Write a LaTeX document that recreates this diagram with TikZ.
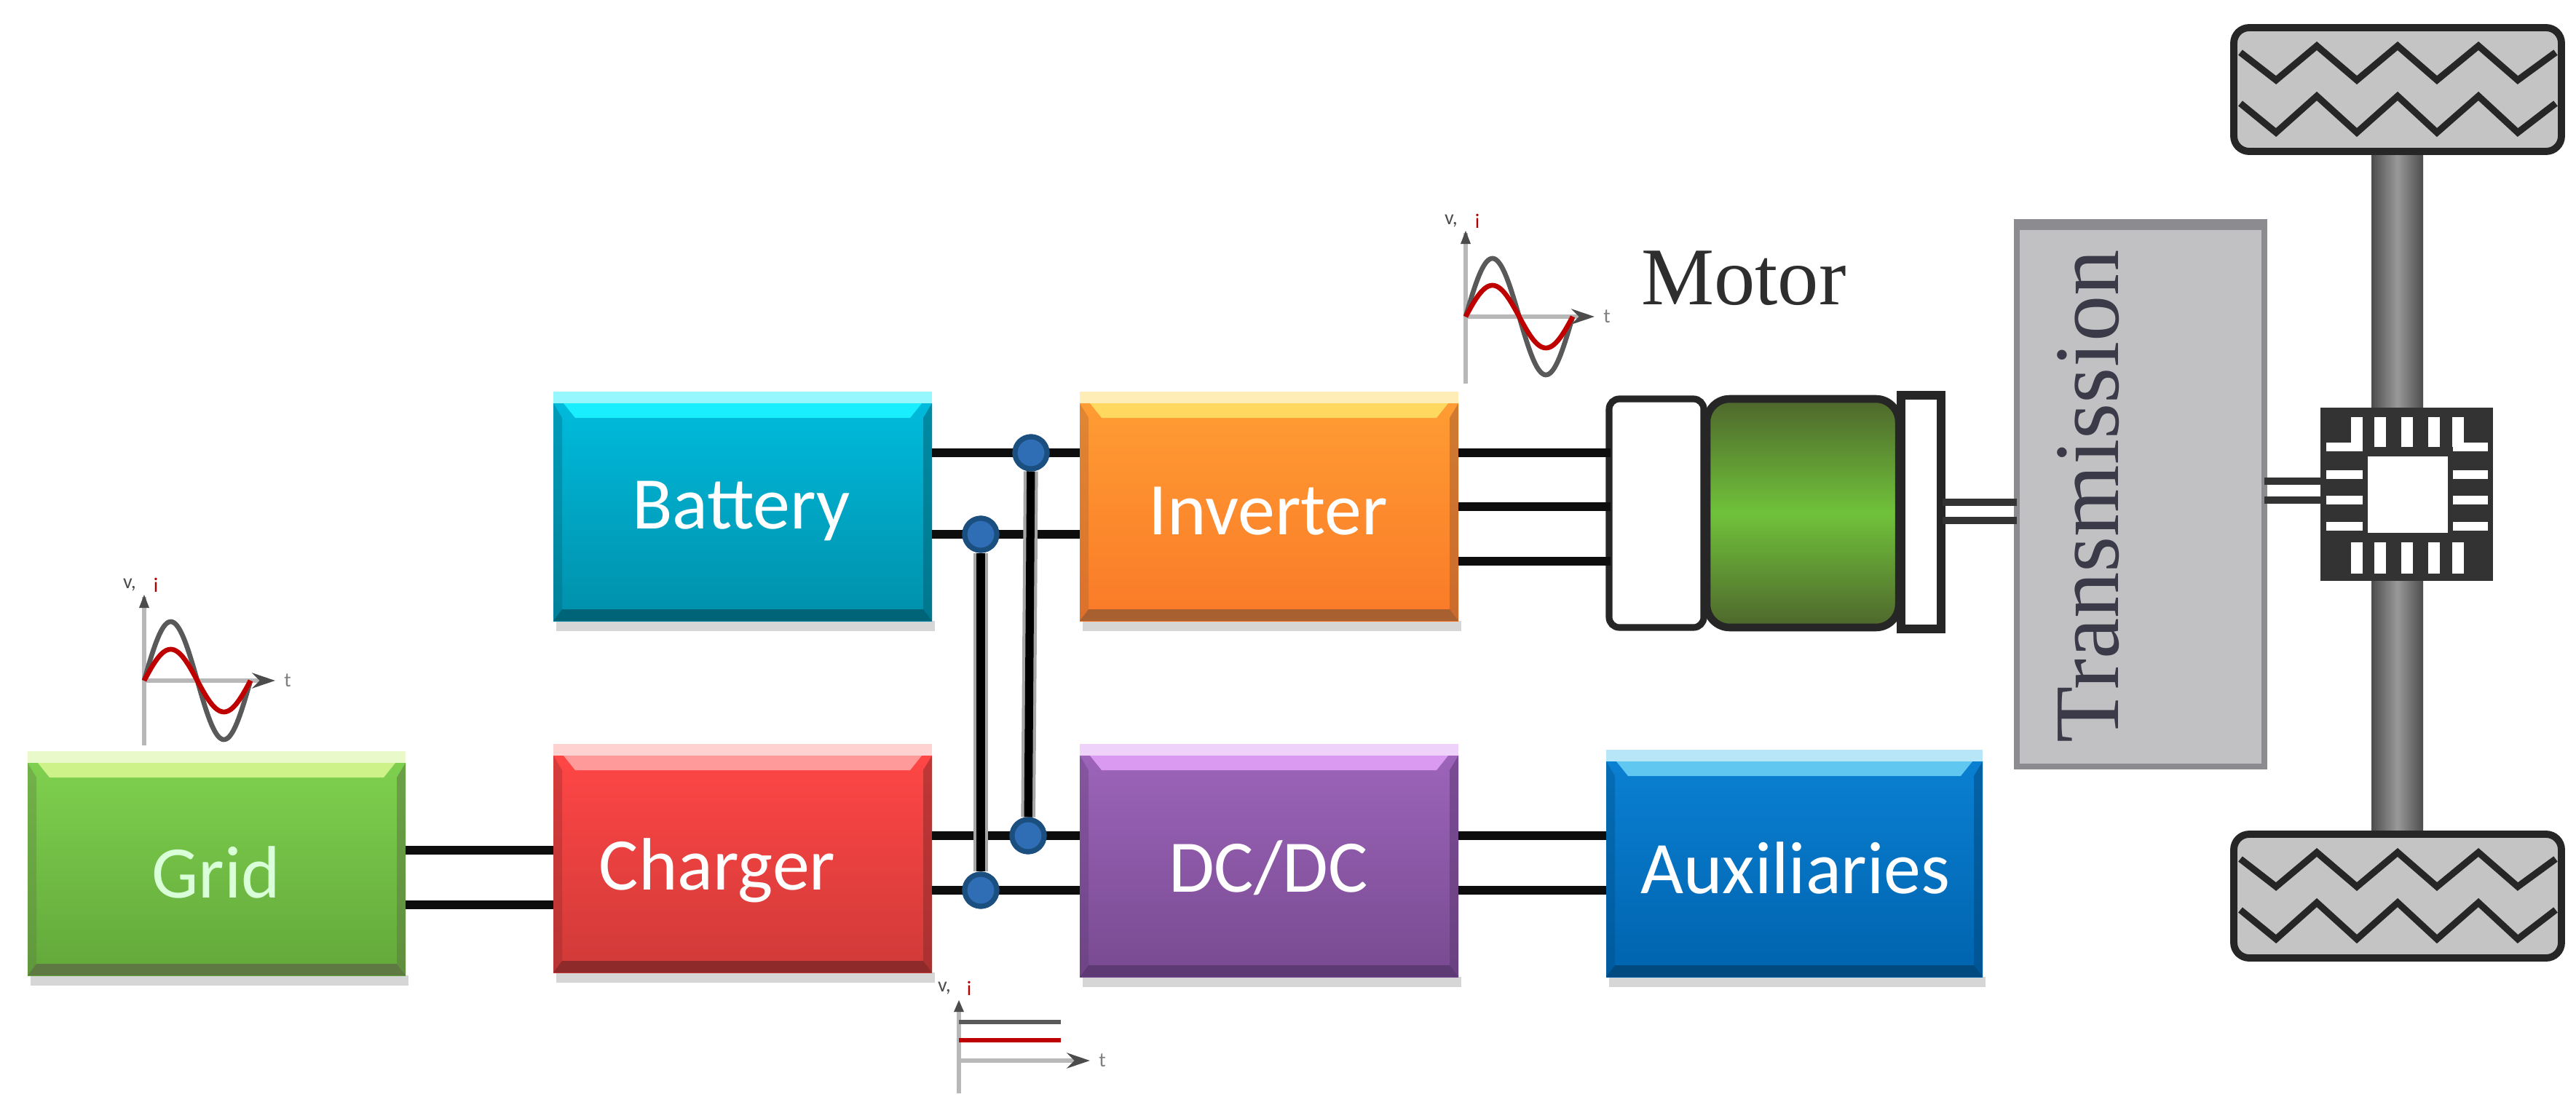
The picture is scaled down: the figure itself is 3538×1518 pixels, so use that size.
\documentclass[tikz,border=0pt]{standalone}
\usepackage{fontspec}
\setmainfont{Carlito}
\newfontfamily\serifm{Liberation Serif}
\usetikzlibrary{arrows.meta}
\newcommand{\bevbox}[9]{% name,x1,y1,x2,y2,top,bottom,highlight,dark
  \definecolor{bt}{HTML}{#6}\definecolor{bb}{HTML}{#7}\definecolor{bh}{HTML}{#8}\definecolor{bd}{HTML}{#9}
  \fill[black!16] (#2+4,#5) rectangle (#4+4,#5+14);
  \fill[bh!45!white] (#2,#3-8) rectangle (#4,#3+8);
  \node[boxface,top color=bt,bottom color=bb,minimum width={(#4-#2)*0.01cm},minimum height={(#5-#3-8)*0.01cm},anchor=south west] (#1) at (#2,#5) {};
  \fill[bh] (#2+14,#3+8) -- (#4-14,#3+8) -- (#4-30,#3+28) -- (#2+30,#3+28) -- cycle;
  \fill[bd] (#2,#5) -- (#4,#5) -- (#4-12,#5-16) -- (#2+12,#5-16) -- cycle;
  \fill[bd,opacity=.55] (#4,#3+8) -- (#4,#5) -- (#4-12,#5-16) -- (#4-12,#3+28) -- cycle;
  \fill[bd,opacity=.35] (#2,#3+8) -- (#2,#5) -- (#2+12,#5-16) -- (#2+12,#3+28) -- cycle;
}
\newcommand{\sinewave}[7]{% x0,y0,width,A black,A red,x axis end,y axis bottom
  \draw[axisline] (#1,#2-115) -- (#1,#7);
  \draw[axisline,-{Stealth[length=9pt,width=6pt,black!70]}] (#1,#2) -- (#6,#2);
  \fill[black!70] (#1-7,#2-100) -- (#1+7,#2-100) -- (#1,#2-118) -- cycle;
  \draw[curveblack] plot[domain=0:360,samples=72] ({#1+\x/360*#3},{#2-#4*sin(\x)});
  \draw[curvered] plot[domain=0:360,samples=72] ({#1+\x/360*#3},{#2-#5*sin(\x)});
  \node[axlabel,text=black!70] at (#1-20,#2-131) {v,};
  \node[axlabel,text=red!70!black] at (#1+16,#2-131) {i};
  \node[axlabel,text=black!50] at (#6+17,#2) {t};
}
\newcommand{\tire}[1]{%
  \begin{scope}[shift={(0,#1)}]
    \draw[tireline,fill=tiregray,rounded corners=6pt] (3068,38) rectangle (3518,208);
    \draw[zigline] (3077,72) -- (3126,110) -- (3182,63) -- (3237,110) -- (3293,63) -- (3347,110) -- (3404,63) -- (3458,110) -- (3510,72);
    \draw[zigline] (3077,142) -- (3126,182) -- (3182,132) -- (3237,182) -- (3293,132) -- (3347,182) -- (3404,132) -- (3458,182) -- (3510,142);
  \end{scope}
}
\definecolor{tiregray}{HTML}{C4C4C4}
\definecolor{dotblue}{HTML}{2F6DB5}
\definecolor{dotdark}{HTML}{1B4F80}
\definecolor{GreenEnd}{HTML}{4E662C}
\definecolor{GreenMid}{HTML}{70C23A}
\definecolor{transedge}{HTML}{8C8C90}
\definecolor{transface}{HTML}{C1C1C4}
\definecolor{transtext}{HTML}{3A3A48}
\tikzset{
  boxface/.style={inner sep=0pt,outer sep=0pt},
  boxlabel/.style={text=#1,font=\fontsize{29}{33}\selectfont,inner sep=0pt},
  wire/.style={line width=3.4pt,black!95},
  vwire/.style={line width=5.6pt,black!35,postaction={draw=black,line width=3.2pt}},
  dot/.style={circle,fill=dotblue,draw=dotdark,line width=2pt,minimum size=44*0.01cm,inner sep=0pt},
  axisline/.style={draw=black!28,line width=1.6pt},
  curveblack/.style={draw=black!65,line width=1.9pt},
  curvered/.style={draw=red!75!black,line width=1.9pt},
  axlabel/.style={font=\fontsize{8}{9}\selectfont,inner sep=0pt},
  tireline/.style={draw=black!85,line width=2.8pt},
  zigline/.style={draw=black!85,line width=2.6pt},
  shaft/.style={draw=black!80,line width=2.6pt},
  slot/.style={fill=white,draw=none},
}
\begin{document}
\begin{tikzpicture}[x=0.01cm,y=-0.01cm]
\useasboundingbox (0,0) rectangle (3538,1518);
% wheel axle
\shade[left color=black!70,right color=black!70,middle color=black!40] (3257,205) rectangle (3328,1148);
\tire{0}
\tire{1108}
% waveforms
\sinewave{198}{935}{146}{81}{43}{378}{1024}
\sinewave{2013}{435}{147}{80}{43}{2190}{527}
% dc waveform
\draw[axisline] (1317,1390) -- (1317,1502);
\fill[black!70] (1310,1390) -- (1324,1390) -- (1317,1374) -- cycle;
\draw[axisline,-{Stealth[length=9pt,width=6pt,black!70]}] (1317,1457) -- (1497,1457);
\draw[curveblack] (1317,1404) -- (1457,1404);
\draw[curvered] (1317,1429) -- (1457,1429);
\node[axlabel,text=black!70] (dcv) at (1297,1358) {v,};
\node[axlabel,text=red!70!black] (dci) at (1331,1358) {i};
\node[axlabel,text=black!50] (dct) at (1514,1457) {t};
% boxes
\bevbox{grid}{38}{1040}{557}{1340}{7FD04F}{62A83A}{CDF28A}{5E7A42}
\bevbox{charger}{760}{1030}{1280}{1336}{FF4646}{CF3A38}{FF9A9A}{8E2A2A}
\bevbox{battery}{760}{546}{1280}{853}{00BBDC}{008FAA}{19EEFF}{006478}
\bevbox{inverter}{1483}{546}{2003}{853}{FF9C33}{FA7A28}{FFD860}{A86030}
\bevbox{dcdc}{1483}{1030}{2003}{1342}{9C64BA}{784A90}{DA9AF2}{5E3A74}
\bevbox{aux}{2206}{1038}{2723}{1342}{0A80D2}{0063AE}{60C8F0}{004A80}
\node[boxlabel=white!85!green] (tgrid) at (297,1198) {Grid};
\node[boxlabel=white] (tcharger) at (985,1196) {Charger};
\node[boxlabel=white] (tbattery) at (1018,702) {Battery};
\node[boxlabel=white] (tinverter) at (1742,702) {Inverter};
\node[boxlabel=white] (tdcdc) at (1742,1192) {DC/DC};
\node[boxlabel=white] (taux) at (2466,1192) {Auxiliaries};
% motor
\node[inner sep=0pt,outer sep=0pt] (lmotor) at (2395,382) {\serifm\fontsize{32}{36}\selectfont\color{black!82}Motor};
\draw[line width=2.6pt,draw=black!85,fill=white,rounded corners=4pt] (2210,548) rectangle (2340,862);
\draw[line width=3pt,draw=black!85,top color=GreenEnd,bottom color=GreenEnd,middle color=GreenMid,rounded corners=9pt] (2344,548) rectangle (2608,862);
\draw[line width=3.4pt,draw=black!85,fill=white] (2611,543) rectangle (2666,864);
\coordinate (inva) at (2003,622);
\coordinate (invb) at (2003,696);
\coordinate (invc) at (2003,771);
\coordinate (mot) at (2212,0);
\draw[wire] (inva) -- (mot |- inva);
\draw[wire] (invb) -- (mot |- invb);
\draw[wire] (invc) -- (mot |- invc);
% transmission
\node[draw=transedge,line width=2.2pt,fill=transface,minimum width=340*0.01cm,minimum height=745*0.01cm,anchor=north west,inner sep=0pt,outer sep=0pt] (trans) at (2770,308) {};
\fill[transedge] (2766,301) rectangle (3114,316);
\node[rotate=90,inner sep=0pt,text=transtext] (ttrans) at (2868,682) {\serifm\fontsize{36}{40}\selectfont Transmission};
% differential
\fill[black!80] (3187,560) rectangle (3424,798);
\foreach \sx in {3237,3269,3306,3343,3376}{
  \fill[slot] (\sx-8,573) rectangle (\sx+8,614);
  \fill[slot] (\sx-8,745) rectangle (\sx+8,788);
}
\foreach \sy in {614,652,687,723}{
  \fill[slot] (3195,\sy-6) rectangle (3245,\sy+6);
  \fill[slot] (3369,\sy-6) rectangle (3417,\sy+6);
}
\fill[white,draw=black!80,line width=1.2pt] (3250,625) rectangle (3364,734);
\node[inner sep=0pt,minimum size=0pt] (diff) at (3305,679) {};
% shafts
\draw[shaft] (2668,690) -- (trans.west |- 0,690);
\draw[shaft] (2668,715) -- (trans.west |- 0,715);
\draw[shaft] (trans.east |- 0,661) -- (3187,661);
\draw[shaft] (trans.east |- 0,687) -- (3187,687);
% wires
\draw[wire] (grid.east |- 0,1168) -- (charger.west |- 0,1168);
\draw[wire] (grid.east |- 0,1243) -- (charger.west |- 0,1243);
\draw[wire] (dcdc.east |- 0,1148) -- (aux.west |- 0,1148);
\draw[wire] (dcdc.east |- 0,1223) -- (aux.west |- 0,1223);
\draw[wire] (battery.east |- 0,622) -- (inverter.west |- 0,622);
\draw[wire] (battery.east |- 0,734) -- (inverter.west |- 0,734);
\draw[wire] (charger.east |- 0,1148) -- (dcdc.west |- 0,1148);
\draw[wire] (charger.east |- 0,1223) -- (dcdc.west |- 0,1223);
\node[dot] (d1) at (1416,622) {};
\node[dot] (d2) at (1347,734) {};
\node[dot] (d3) at (1412,1148) {};
\node[dot] (d4) at (1347,1223) {};
\draw[vwire] (d1) -- (d3);
\draw[vwire] (d2) -- (d4);
\node[dot] at (d1) {};
\node[dot] at (d2) {};
\node[dot] at (d3) {};
\node[dot] at (d4) {};
\end{tikzpicture}
\end{document}
